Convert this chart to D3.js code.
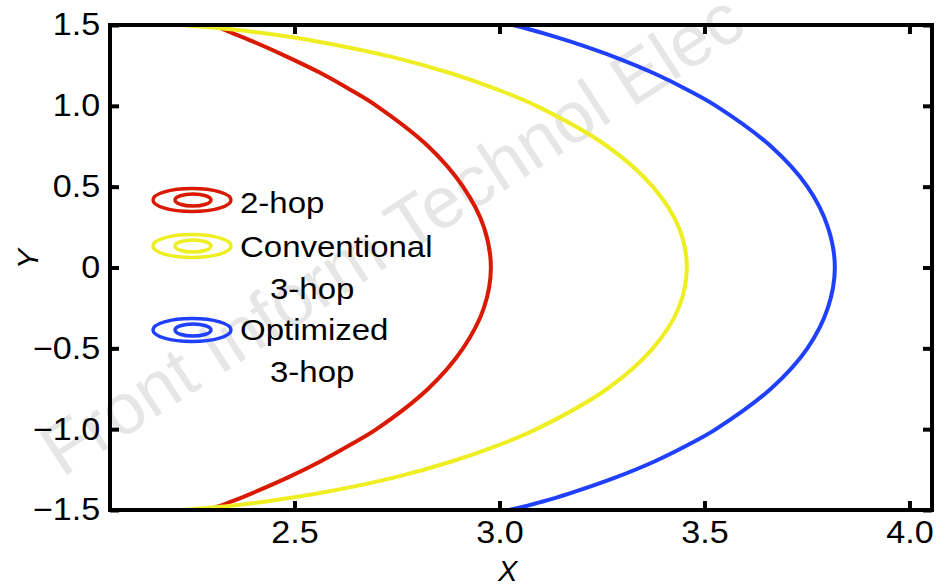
<!DOCTYPE html>
<html>
<head>
<meta charset="utf-8">
<script src="https://cdn.jsdelivr.net/npm/d3@7"></script>
<style>
  html, body { margin: 0; padding: 0; background: #fff; }
  svg { display: block; }
  text { font-family: "Liberation Sans", Arial, sans-serif; }
</style>
</head>
<body>
<div id="chart"></div>
<script>
// ---- data ----
const yTicks = [-1.5, -1.0, -0.5, 0, 0.5, 1.0, 1.5];
const yTickLabels = ["\u22121.5", "\u22121.0", "\u22120.5", "0", "0.5", "1.0", "1.5"];
const xTicks = [2.5, 3.0, 3.5, 4.0];
const xTickLabels = ["2.5", "3.0", "3.5", "4.0"];

const curveY = [-1.5, -1.475, -1.45, -1.4, -1.3, -1.2, -1.1, -1.0, -0.75, -0.5, -0.25, 0,
                0.25, 0.5, 0.75, 1.0, 1.1, 1.2, 1.3, 1.4, 1.45, 1.475, 1.5];
const twoHopX = [2.287, 2.318, 2.344, 2.393, 2.483, 2.563, 2.634, 2.700, 2.826, 2.911, 2.962, 2.979,
                 2.962, 2.911, 2.826, 2.700, 2.636, 2.566, 2.485, 2.397, 2.349, 2.325, 2.299];
const conv3HopX = [2.228, 2.339, 2.422, 2.552, 2.742, 2.883, 2.996, 3.090, 3.263, 3.374, 3.437, 3.457,
                   3.437, 3.374, 3.263, 3.090, 2.996, 2.883, 2.742, 2.552, 2.422, 2.339, 2.228];
const opt3HopX = [3.023, 3.066, 3.102, 3.168, 3.282, 3.378, 3.458, 3.528, 3.662, 3.751, 3.801, 3.818,
                  3.801, 3.751, 3.662, 3.528, 3.458, 3.378, 3.283, 3.170, 3.106, 3.070, 3.033];

const seriesNames = ["2-hop", "Conventional|3-hop", "Optimized|3-hop"];
const seriesColors = ["#d91a00", "#eeee22", "#1f40ff"];

// ---- layout ----
const W = 949, H = 587;
const margin = { left: 110, top: 25, right: 17, bottom: 77 };
const x = d3.scaleLinear().domain([2.05, 4.055]).range([margin.left, W - margin.right]);
const y = d3.scaleLinear().domain([-1.5, 1.5]).range([H - margin.bottom, margin.top]);

const svg = d3.select("#chart").append("svg").attr("width", W).attr("height", H);

// watermark
svg.append("text")
  .attr("transform", "translate(62,478) rotate(-33)")
  .attr("font-size", 72)
  .attr("fill", "#e6e6e6")
  .text("Front Inform Technol Elec");

// curves
const line = d3.line().x(d => x(d[0])).y(d => y(d[1])).curve(d3.curveCatmullRom.alpha(0.5));
const series = [twoHopX, conv3HopX, opt3HopX];
svg.append("clipPath").attr("id", "clip").append("rect")
  .attr("x", margin.left).attr("y", margin.top - 2)
  .attr("width", W - margin.right - margin.left).attr("height", H - margin.bottom - margin.top + 4);
series.forEach((xs, i) => {
  svg.append("path")
    .datum(xs.map((v, j) => [v, curveY[j]]))
    .attr("d", line)
    .attr("fill", "none")
    .attr("stroke", seriesColors[i])
    .attr("stroke-width", 4)
    .attr("clip-path", "url(#clip)");
});

// axes (frame with inward ticks on all sides)
const tickLen = 9;
const stretch = 1.1;
const axStyle = g => {
  g.select(".domain").remove();
  g.selectAll(".tick line").attr("stroke", "#000").attr("stroke-width", 4);
  g.selectAll(".tick text").attr("fill", "#000").attr("font-size", 31);
};
svg.append("g").attr("transform", `translate(0,${y(-1.5)})`)
  .call(d3.axisBottom(x).tickValues(xTicks).tickFormat((d, i) => xTickLabels[i]).tickSizeInner(-tickLen).tickPadding(11))
  .call(axStyle)
  .call(g => g.selectAll(".tick text").attr("transform", `scale(${stretch},1)`));
svg.append("g").attr("transform", `translate(0,${y(1.5)})`)
  .call(d3.axisTop(x).tickValues(xTicks).tickFormat("").tickSizeInner(-tickLen))
  .call(axStyle);
svg.append("g").attr("transform", `translate(${x.range()[0]},0)`)
  .call(d3.axisLeft(y).tickValues(yTicks).tickFormat((d, i) => yTickLabels[i]).tickSizeInner(-tickLen).tickPadding(9))
  .call(axStyle)
  .call(g => g.selectAll(".tick text").attr("transform", `scale(${stretch},1)`));
svg.append("g").attr("transform", `translate(${x.range()[1]},0)`)
  .call(d3.axisRight(y).tickValues(yTicks).tickFormat("").tickSizeInner(-tickLen))
  .call(axStyle);
svg.append("rect")
  .attr("x", x.range()[0]).attr("y", y(1.5))
  .attr("width", x.range()[1] - x.range()[0]).attr("height", y(-1.5) - y(1.5))
  .attr("fill", "none").attr("stroke", "#000").attr("stroke-width", 4);

// axis titles
svg.append("text").attr("x", x(3.02)).attr("y", 581)
  .attr("text-anchor", "middle").attr("font-size", 29).attr("font-style", "italic").text("X");
svg.append("text").attr("transform", `translate(38,259) rotate(-90)`)
  .attr("text-anchor", "middle").attr("font-size", 30).attr("font-style", "italic").text("Y");

// legend
const legendRows = [
  { cy: 200, lines: [213] },
  { cy: 246, lines: [257, 299] },
  { cy: 330, lines: [340, 382] }
];
legendRows.forEach((r, i) => {
  const g = svg.append("g");
  g.append("ellipse").attr("cx", 192).attr("cy", r.cy).attr("rx", 39).attr("ry", 11.5)
    .attr("fill", "none").attr("stroke", seriesColors[i]).attr("stroke-width", 3.5);
  g.append("ellipse").attr("cx", 193).attr("cy", r.cy).attr("rx", 18).attr("ry", 6)
    .attr("fill", "none").attr("stroke", seriesColors[i]).attr("stroke-width", 3.5);
  const parts = seriesNames[i].split("|");
  parts.forEach((p, k) => {
    const tx = k === 0 ? 240 : 270;
    g.append("text").attr("transform", `translate(${tx},${r.lines[k]}) scale(${stretch},1)`)
      .attr("font-size", 30).attr("fill", "#000").text(p);
  });
});
</script>
</body>
</html>
